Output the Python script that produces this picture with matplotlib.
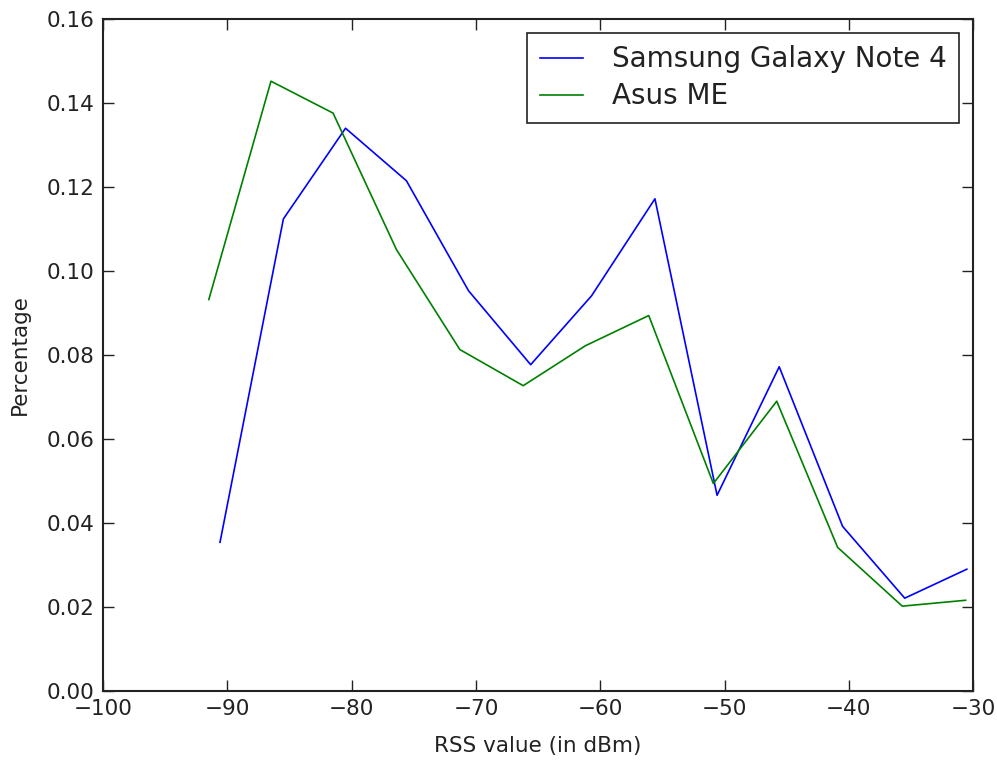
import matplotlib
matplotlib.use("Agg")
import matplotlib.pyplot as plt

# RSS distribution per device
samsung_rss = [-90.6, -85.5, -80.5, -75.6, -70.6, -65.6, -60.7, -55.6, -50.6, -45.6, -40.5, -35.5, -30.5]
samsung_pct = [0.0354, 0.1124, 0.1340, 0.1215, 0.0953, 0.0777, 0.0941, 0.1172, 0.0466, 0.0772, 0.0392, 0.0221, 0.0290]

asus_rss = [-91.5, -86.5, -81.5, -76.4, -71.3, -66.2, -61.2, -56.1, -50.9, -45.8, -40.9, -35.7, -30.6]
asus_pct = [0.0932, 0.1452, 0.1376, 0.1051, 0.0813, 0.0727, 0.0822, 0.0894, 0.0494, 0.0690, 0.0342, 0.0202, 0.0216]

x_ticks = [-100, -90, -80, -70, -60, -50, -40, -30]
y_ticks = [0.00, 0.02, 0.04, 0.06, 0.08, 0.10, 0.12, 0.14, 0.16]

fig = plt.figure(figsize=(9.97, 7.62), dpi=100)
ax = fig.add_axes([0.1035, 0.0932, 0.8725, 0.8818])

ax.plot(samsung_rss, samsung_pct, color=(0, 0, 1), lw=1.2, label="Samsung Galaxy Note 4")
ax.plot(asus_rss, asus_pct, color=(0, 0.5, 0), lw=1.2, label="Asus ME")

ax.set_xlim(-100, -30)
ax.set_ylim(0, 0.16)
ax.set_xticks(x_ticks)
ax.set_yticks(y_ticks)
ax.set_xticklabels([f"\u2212{abs(v)}" for v in x_ticks])
ax.set_yticklabels([f"{v:.2f}" for v in y_ticks])
ax.tick_params(direction="in", length=8, width=1, top=True, right=True,
               labelsize=15.5, pad=6, colors="#222222")
for s in ax.spines.values():
    s.set_linewidth(1.5)
    s.set_color("#222222")

ax.set_xlabel("RSS value (in dBm)", fontsize=15.5, labelpad=12, color="#222222")
ax.set_ylabel("Percentage", fontsize=15.5, labelpad=12, color="#222222")

leg = ax.legend(loc="upper right", fontsize=20, fancybox=False, framealpha=1,
                edgecolor="#222222", handlelength=1.55, handletextpad=1.05,
                borderpad=0.45, labelspacing=0.32, borderaxespad=0.5)
leg.get_frame().set_linewidth(1.2)
for t in leg.get_texts():
    t.set_color("#222222")

fig.savefig("out.png", dpi=100)
